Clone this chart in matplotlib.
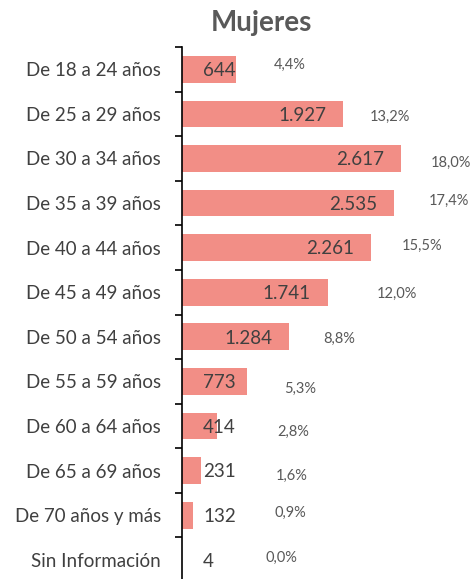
import numpy as np
import matplotlib
matplotlib.use("Agg")
import matplotlib.pyplot as plt

# Mujeres por tramo de edad
categorias = [
    "De 18 a 24 años", "De 25 a 29 años", "De 30 a 34 años", "De 35 a 39 años",
    "De 40 a 44 años", "De 45 a 49 años", "De 50 a 54 años", "De 55 a 59 años",
    "De 60 a 64 años", "De 65 a 69 años", "De 70 años y más", "Sin Información",
]
valores = [644, 1927, 2617, 2535, 2261, 1741, 1284, 773, 414, 231, 132, 4]
porcentajes = ["4,4%", "13,2%", "18,0%", "17,4%", "15,5%", "12,0%",
               "8,8%", "5,3%", "2,8%", "1,6%", "0,9%", "0,0%"]

# label placement (pixels from bar end / from row centre, +down)
PCT_DX = [38, 26, 30, 35, 31, 49, 34, 37, 61, 74, 81, 83]
PCT_DY = [-4, 3, 4, -2, -2, 2, 2, 8, 6, 5, -2, -2]

BAR = "#F28E86"
FONT = ["Lato", "DejaVu Sans"]

W, H = 472, 579
fig = plt.figure(figsize=(W / 100, H / 100), dpi=100)
ax_left, ax_top, ax_right, ax_bot = 182, 47, 470, 582
ax = fig.add_axes([ax_left / W, 1 - ax_bot / H, (ax_right - ax_left) / W, (ax_bot - ax_top) / H])

xmax = 3441
ax.set_xlim(0, xmax)
y = np.arange(len(valores))
ax.set_ylim(len(valores) - 0.5, -0.5)
ax.barh(y, valores, height=0.6, color=BAR)

px = xmax / (ax_right - ax_left)  # data units per pixel
for i, v in enumerate(valores):
    label = f"{v:,}".replace(",", ".")
    if v >= 1000:
        ax.text(v - 17 * px, i + 0.03, label, ha="right", va="center",
                fontsize=13.5, color="#404040", family=FONT)
    else:
        ax.text(21 * px, i + 0.03, label, ha="left", va="center",
                fontsize=13.5, color="#404040", family=FONT)
    ax.annotate(porcentajes[i], xy=(v, i), xytext=(PCT_DX[i] * 0.72, -PCT_DY[i] * 0.72),
                textcoords="offset points", ha="left", va="center",
                fontsize=10.5, color="#595959", family=FONT)

for s in ["top", "right", "bottom"]:
    ax.spines[s].set_visible(False)
ax.spines["left"].set_linewidth(1.2)
ax.set_xticks([])
ax.set_yticks(y)
ax.set_yticklabels(categorias, family=FONT, fontsize=13.5, color="#404040")
ax.tick_params(axis="y", which="major", length=0, pad=15)
ax.set_yticks(np.arange(-0.5, len(valores)), minor=True)
ax.tick_params(axis="y", which="minor", length=5, width=1.2)

fig.text(261 / W, 1 - 23 / H, "Mujeres", ha="center", va="center",
         fontsize=20, fontweight="bold", color="#595959", family=FONT)

fig.savefig("out.png", dpi=100)
